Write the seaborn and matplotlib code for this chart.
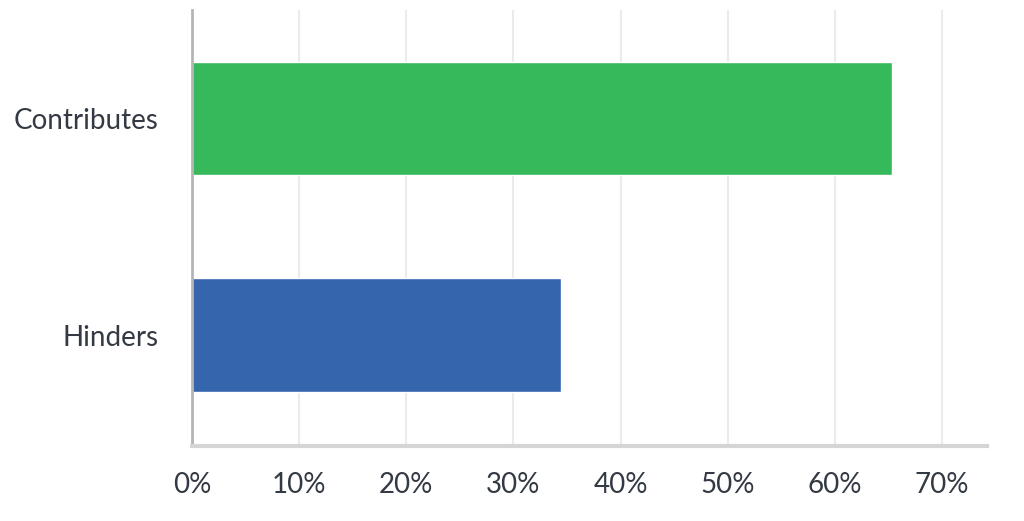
import pandas as pd
import seaborn as sns
import matplotlib.pyplot as plt
from matplotlib.ticker import PercentFormatter

# 数据
categories = ['Contributes', 'Hinders']
percents = [65.3, 34.4]
bar_colors = ['#35b95a', '#3566ad']
x_ticks = [0, 10, 20, 30, 40, 50, 60, 70]

sns.set_style('white')
plt.rcParams['font.family'] = ['Lato', 'DejaVu Sans']

df = pd.DataFrame({'category': categories, 'percent': percents})

fig = plt.figure(figsize=(10.24, 5.21), dpi=100)
ax = fig.add_axes([192 / 1024, 1 - 446 / 521, (987 - 192) / 1024, (446 - 10) / 521])

sns.barplot(data=df, x='percent', y='category', hue='category',
            palette=bar_colors, width=0.525, legend=False, ax=ax, saturation=1)

ax.set_xlim(0, 74.2)
ax.set_ylim(1.51, -0.5)
ax.set_xticks(x_ticks)
ax.xaxis.set_major_formatter(PercentFormatter(decimals=0))
ax.grid(axis='x', color='#ebebeb', linewidth=1.5)
ax.set_axisbelow(True)
ax.set_xlabel('')
ax.set_ylabel('')

for side in ['top', 'right']:
    ax.spines[side].set_visible(False)
ax.spines['left'].set_color('#b5b5b5')
ax.spines['left'].set_linewidth(2)
ax.spines['bottom'].set_color('#d5d5d5')
ax.spines['bottom'].set_linewidth(3)

ax.tick_params(axis='x', length=0, pad=19, labelsize=20, labelcolor='#333a44')
ax.tick_params(axis='y', length=0, pad=24, labelsize=20, labelcolor='#333a44')

plt.savefig('out.png', dpi=100)
